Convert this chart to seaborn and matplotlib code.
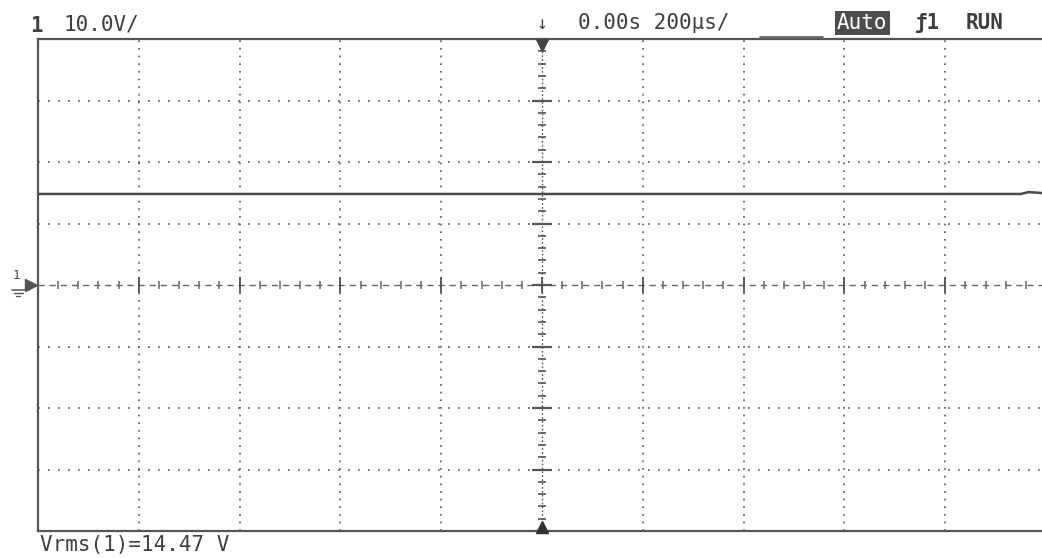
import matplotlib
matplotlib.use("Agg")
import matplotlib.pyplot as plt
import seaborn as sns
import numpy as np
import pandas as pd

time_us = [-1000, -500, 0, 500, 900, 950, 965, 985, 1000]
ch1_volts = [14.8, 14.8, 14.8, 14.8, 14.8, 14.8, 15.1, 15.0, 14.9]
volts_per_div = 10.0
time_per_div_us = 200.0
n_xdiv = 10
n_ydiv = 8
header_left = "10.0V/"
header_time = "0.00s 200µs/"
measurement = "Vrms(1)=14.47 V"

sns.set_style("white")
plt.rcParams["lines.scale_dashes"] = False
plt.rcParams["font.family"] = ["DejaVu Sans Mono", "DejaVu Sans"]

W, H = 1042, 558
fig = plt.figure(figsize=(W / 100, H / 100), dpi=100)
fig.patch.set_facecolor("white")

x0, x1, ytop, ybot = 38, 1046, 39, 531
ax = fig.add_axes([x0 / W, (H - ybot) / H, (x1 - x0) / W, (ybot - ytop) / H])
ax.set_facecolor("white")

xmax = n_xdiv / 2 * time_per_div_us
ymax = n_ydiv / 2 * volts_per_div
ax.set_xlim(-xmax, xmax)
ax.set_ylim(-ymax, ymax)

grid_c = "#6a6a6a"
# dotted graticule
for k in range(1, n_xdiv):
    xv = -xmax + k * time_per_div_us
    if abs(xv) < 1e-9:
        continue
    ax.axvline(xv, color=grid_c, lw=1.3, ls=(0, (1.3, 4.2)), zorder=1)
for k in range(1, n_ydiv):
    yv = -ymax + k * volts_per_div
    if abs(yv) < 1e-9:
        continue
    ax.axhline(yv, color=grid_c, lw=1.3, ls=(0, (1.3, 5.9)), zorder=1)

# center axes with ticks
ax.axvline(0, color="#555555", lw=1.0, ls=(0, (1.2, 1.6)), zorder=2)
ax.axhline(0, color="#666666", lw=1.0, ls=(0, (4.5, 3.5)), zorder=2)
minor_y = np.arange(-ymax, ymax + 0.01, volts_per_div / 5)
major_y = np.arange(-ymax + volts_per_div, ymax, volts_per_div)
ax.plot(np.zeros_like(minor_y), minor_y, ls="none", marker="_", ms=6, mew=1.2,
        color="#555555", zorder=3)
ax.plot(np.zeros_like(major_y), major_y, ls="none", marker="_", ms=15, mew=1.6,
        color="#555555", zorder=3)
minor_x = np.arange(-xmax, xmax + 0.01, time_per_div_us / 5)
major_x = np.arange(-xmax + time_per_div_us, xmax, time_per_div_us)
ax.plot(minor_x, np.zeros_like(minor_x), ls="none", marker="|", ms=6, mew=1.1,
        color="#666666", zorder=3)
ax.plot(major_x, np.zeros_like(major_x), ls="none", marker="|", ms=11, mew=1.3,
        color="#555555", zorder=3)

# trigger position markers
ax.plot([0], [ymax - 1.0], marker="v", ms=8, color="#444444", ls="none",
        clip_on=False, zorder=4)
ax.plot([0], [-ymax + 0.6], marker="^", ms=8, color="#333333", ls="none",
        clip_on=False, zorder=4)
# ground reference arrow
ax.plot([-xmax - 14], [0], marker=">", ms=8, color="#555555", ls="none",
        clip_on=False, zorder=4)

# channel 1 trace
df = pd.DataFrame({"t": time_us, "v": ch1_volts})
sns.lineplot(data=df, x="t", y="v", ax=ax, color="#4a4a4a", lw=1.8, zorder=5)

ax.set_xticks([])
ax.set_yticks([])
ax.set_xlabel("")
ax.set_ylabel("")
for side in ["left", "top", "bottom"]:
    ax.spines[side].set_color("#555555")
    ax.spines[side].set_linewidth(1.6)
ax.spines["right"].set_visible(False)


def px(x, y):
    return x / W, 1 - y / H


def hline(xa, xb, y, lw=1.2, c="#555555"):
    fig.add_artist(plt.Line2D([xa / W, xb / W], [1 - y / H, 1 - y / H],
                              color=c, lw=lw))


tc = "#3f3f3f"
fs = 15
fig.text(*px(30, 32), "1", fontsize=fs, fontweight="bold", color=tc, va="baseline")
fig.text(*px(64, 31), header_left, fontsize=fs, color=tc, va="baseline")
fig.text(*px(537, 29), "↓", fontsize=13, color=tc, va="baseline")
fig.text(*px(578, 29), header_time, fontsize=fs, color=tc, va="baseline")
fig.text(*px(837, 29), "Auto", fontsize=fs, color="white", va="baseline",
         bbox=dict(facecolor="#4d4d4d", edgecolor="none", pad=1.5))
fig.text(*px(914, 29), "ƒ1", fontsize=fs, fontweight="bold", color=tc, va="baseline")
fig.text(*px(966, 29), "RUN", fontsize=fs, fontweight="bold", color=tc, va="baseline")
hline(760, 823, 36.5)
fig.text(*px(40, 551), measurement, fontsize=fs, color=tc, va="baseline")

# channel-1 ground marker: "1" over a ground symbol (drawn as lines)
fig.text(*px(13, 279), "1", fontsize=9, color=tc, va="baseline")
hline(12, 29, 289.5, lw=1.1)
hline(14, 23, 292.5, lw=1.0)
hline(16, 20, 295.5, lw=1.0)

fig.savefig("out.png", dpi=100, facecolor="white")
